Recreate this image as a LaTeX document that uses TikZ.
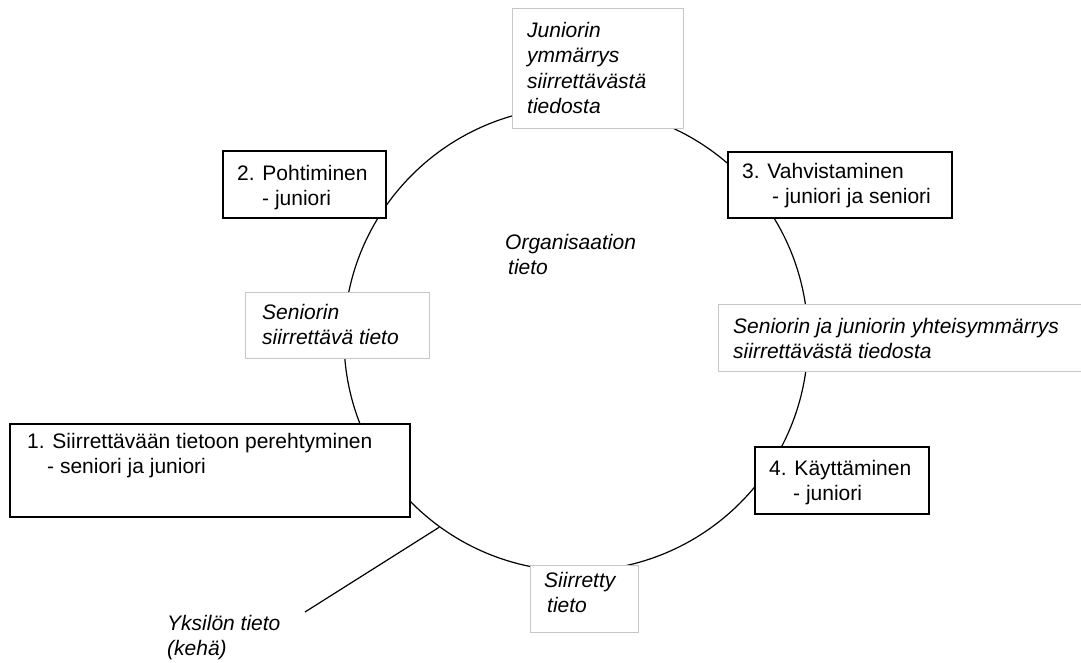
\documentclass[tikz,border=0pt]{standalone}
\usepackage{fontspec}
\setmainfont{Liberation Sans}
% stacked lines whose anchor is the baseline of the first line
\newcommand{\txtlines}[1]{\begin{tabular}[t]{@{}l@{}}#1\end{tabular}}
\begin{document}
\begin{tikzpicture}[x=1pt,y=-1pt,
  every node/.style={font=\fontsize{21}{25.5}\selectfont},
  stage/.style={draw=black, line width=1.5pt, fill=white, inner sep=0pt, anchor=north west},
  note/.style={draw=black!22, line width=0.9pt, fill=white, inner sep=0pt, anchor=north west},
  txt/.style={anchor=base west, inner sep=0pt},
  itxt/.style={txt, font=\fontsize{21}{25.5}\selectfont\itshape},
  ringline/.style={draw=black, line width=1.2pt}]

\useasboundingbox[fill=white] (0,0) rectangle (1081,662);

% the knowledge cycle
\node[circle, ringline, minimum size=464pt, inner sep=0pt] (ring) at (576,339) {};

% individual knowledge pointer
\coordinate (yksend) at (305,612);
\draw[ringline] (yksend) -- (ring.-126);

% boxes sitting on the ring
\node[note, minimum width=171pt, minimum height=120pt] (juny) at (512,8) {};
\node[stage, minimum width=163pt, minimum height=67pt] (pohd) at (222,150) {};
\node[stage, minimum width=224pt, minimum height=66pt] (vahv) at (727,151) {};
\node[note, minimum width=184pt, minimum height=66pt] (senst) at (245,292) {};
\node[note, minimum width=380pt, minimum height=67pt] (yht) at (718,304) {};
\node[stage, minimum width=400pt, minimum height=93pt] (pere) at (9,423) {};
\node[stage, minimum width=174pt, minimum height=67pt] (kayt) at (754,446) {};
\node[note, minimum width=108pt, minimum height=67pt] (siir) at (530,565) {};

% texts
\node[itxt] (junyt) at (527,37) {\txtlines{Juniorin\\ymmärrys\\siirrettävästä\\tiedosta}};
\node[txt] (pohdt) at (237,180) {\txtlines{2. Pohtiminen\\\hspace*{25pt}- juniori}};
\node[txt] (vahvt) at (742,178) {\txtlines{3. Vahvistaminen\\\hspace*{30pt}- juniori ja seniori}};
\node[itxt] (orgt) at (505,249) {\txtlines{Organisaation\\\hspace*{3pt}tieto}};
\node[itxt] (senstt) at (262,319) {\txtlines{Seniorin\\siirrettävä tieto}};
\node[itxt] (yhtt) at (733,333) {\txtlines{Seniorin ja juniorin yhteisymmärrys\\siirrettävästä tiedosta}};
\node[txt] (peret) at (27,448) {\txtlines{1. Siirrettävään tietoon perehtyminen\\\hspace*{20pt}- seniori ja juniori}};
\node[txt] (kaytt) at (769,475) {\txtlines{4. Käyttäminen\\\hspace*{24pt}- juniori}};
\node[itxt] (siirt) at (544,587) {\txtlines{Siirretty\\\hspace*{3pt}tieto}};
\node[itxt] (ykst) at (167,630) {\txtlines{Yksilön tieto\\(kehä)}};
\end{tikzpicture}
\end{document}
